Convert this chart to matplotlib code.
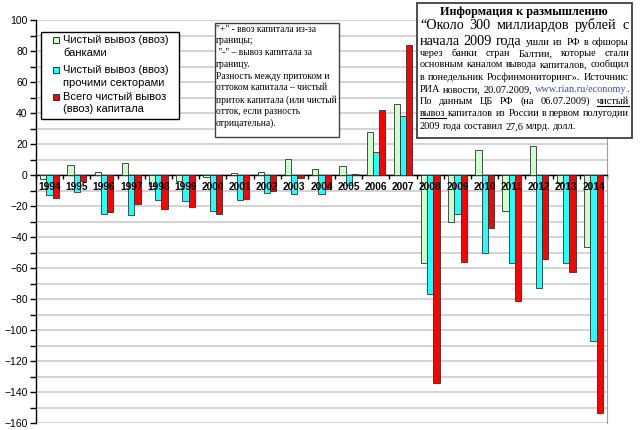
import numpy as np
import matplotlib
matplotlib.use("Agg")
import matplotlib.pyplot as plt
from matplotlib.patches import Rectangle
from matplotlib.lines import Line2D

# capital flows of Russia, bln USD
years = [str(y) for y in range(1994, 2015)]
banks = [-2.4, 6.7, 1.7, 7.8, -7, -4, -1.5, 1.5, 2.2, 10.4, 3.9, 6, 28, 46,
         -56.5, -30, 16, -23, 18.5, -5, -46.5]
others = [-12.6, -11, -25.4, -26, -16, -17, -23, -16, -11.3, -12.4, -12.5, -6.5,
          15, 38, -77, -25, -50, -57, -73, -56.5, -107]
total = [-14.8, -4, -24.1, -18.7, -22, -20.8, -25.4, -15.2, -10.6, -2, -9, 0.5,
         42, 84, -134, -56, -34, -81, -54.5, -62.5, -153.5]

legend_labels = [["Чистый вывоз (ввоз)", "банками"],
                 ["Чистый вывоз (ввоз)", "прочими секторами"],
                 ["Всего чистый вывоз", "(ввоз) капитала"]]
colors = ["#ccffcc", "#22ffff", "#ff0000"]

note_lines = ['"+" - ввоз капитала из-за', 'границы;', ' "-" – вывоз капитала за',
              'границу.', 'Разность между притоком и', 'оттоком капитала – чистый',
              'приток капитала (или чистый', 'отток, если разность', 'отрицательна).']

W, H = 642, 430
fig = plt.figure(figsize=(W / 100, H / 100), dpi=100)
ax = fig.add_axes([36 / W, 7 / H, 571 / W, 403 / H])

x = np.arange(len(years))
bw = 0.23
for i, (vals, c) in enumerate(zip([banks, others, total], colors)):
    ax.bar(x + (i - 1) * bw, vals, bw, color=c, edgecolor="#303030", linewidth=0.6, zorder=3)

ax.set_xlim(-0.5, len(years) - 0.5)
ax.set_ylim(-160, 100)
ax.set_yticks(np.arange(-160, 101, 20))
ax.set_yticks(np.arange(-150, 100, 20), minor=True)
ax.grid(True, which="both", axis="y", color="#c8c8c8", linewidth=1.1, zorder=0)
ax.tick_params(axis="y", which="both", direction="out", length=4, width=1,
               labelsize=7.5, pad=2)
for lab in ax.get_yticklabels():
    lab.set_fontfamily("Liberation Sans")

# category axis sits on zero
ax.spines["bottom"].set_position(("data", 0))
ax.spines["bottom"].set_linewidth(1)
ax.set_xticks(np.arange(-0.5, len(years), 1))
ax.set_xticklabels([])
ax.tick_params(axis="x", direction="out", length=3, width=1)
ax.spines["top"].set_visible(False)
ax.spines["right"].set_color("#a0a0a0")
ax.spines["left"].set_linewidth(1)
for xi, yr in zip(x, years):
    ax.text(xi, -8, yr, ha="center", va="center", fontsize=7.3, fontweight="bold",
            family="Liberation Sans", zorder=5)


def fx(px):
    return px / W


def fy(py):
    return 1 - py / H


# legend box, drawn by hand so the markers sit on the first line
fig.patches.append(Rectangle((fx(41), fy(119)), (179 - 41) / W, (119 - 32) / H,
                             transform=fig.transFigure, facecolor="white",
                             edgecolor="black", linewidth=1, zorder=10))
rows = [(40, 53), (70, 83), (97, 109)]
for (y1, y2), lab, c in zip(rows, legend_labels, colors):
    fig.patches.append(Rectangle((fx(52.5), fy(y1 + 3)), 6 / W, 6 / H,
                                 transform=fig.transFigure, facecolor=c,
                                 edgecolor="#303030", linewidth=0.7, zorder=11))
    fig.text(fx(63), fy(y1), lab[0], va="center", ha="left", fontsize=8,
             family="Liberation Sans", zorder=12)
    fig.text(fx(63), fy(y2), lab[1], va="center", ha="left", fontsize=8,
             family="Liberation Sans", zorder=12)

# note box
fig.patches.append(Rectangle((fx(215), fy(137)), (339 - 215) / W, (137 - 23) / H,
                             transform=fig.transFigure, facecolor="white",
                             edgecolor="#404040", linewidth=1, zorder=10))
for k, s in enumerate(note_lines):
    fig.text(fx(216), fy(29 + k * 11.8), s, va="center", ha="left", fontsize=6.85,
             family="Liberation Serif", zorder=12)

# info box
fig.patches.append(Rectangle((fx(417), fy(138)), (632 - 417) / W, (138 - 3) / H,
                             transform=fig.transFigure, facecolor="white",
                             edgecolor="#404040", linewidth=1.3, zorder=10))
fig.text(fx(524), fy(12), "Информация к размышлению", ha="center", va="center",
         fontsize=8.8, fontweight="bold", family="Liberation Serif", zorder=12)

renderer = fig.canvas.get_renderer()
small = dict(fontsize=7.4)
big = dict(fontsize=10.3)
link = dict(fontsize=7.4, color="#3355aa")
und = dict(fontsize=7.4, underline=True)


def draw_line(base_y, segs, justify=True, x0=420, x1=629):
    # split into words; tokens glued to the previous one form a unit
    units = []
    prev_space = True
    for s, kw in segs:
        parts = s.split(" ")
        for j, w in enumerate(parts):
            if w == "":
                prev_space = True
                continue
            glue = (j == 0 and not prev_space and units)
            kw2 = {k: v for k, v in kw.items() if k != "underline"}
            t = fig.text(0, fy(base_y), w, va="baseline", ha="left",
                         family="Liberation Serif", zorder=12, **kw2)
            wd = t.get_window_extent(renderer).width
            tok = (t, wd, kw.get("underline", False))
            if glue:
                units[-1].append(tok)
            else:
                units.append([tok])
            prev_space = False
        prev_space = s.endswith(" ")
    widths = [sum(tk[1] for tk in u) for u in units]
    if justify and len(units) > 1:
        gap = max(2.0, (x1 - x0 - sum(widths)) / (len(units) - 1))
    else:
        gap = 2.3
    xp = x0
    for u in units:
        for t, wd, ul in u:
            t.set_x(fx(xp))
            if ul:
                fig.lines.append(Line2D([fx(xp), fx(xp + wd)], [fy(base_y + 1.5)] * 2,
                                        transform=fig.transFigure, color="black",
                                        linewidth=0.8, zorder=12))
            xp += wd
        xp += gap


draw_line(29, [("“Около 300 миллиардов рублей с", big)])
draw_line(45, [("начала 2009 года ", big), ("ушли из РФ в офшоры", small)])
draw_line(56, [("через банки стран Балтии, которые стали", small)])
draw_line(67, [("основным каналом вывода капиталов, сообщил", small)])
draw_line(80, [("в понедельник Росфинмониторинг». Источник:", small)])
draw_line(92, [("РИА новости, 20.07.2009, ", small), ("www.rian.ru/economy", link),
               (".", small)])
draw_line(104, [("По данным ЦБ РФ (на 06.07.2009) ", small), ("чистый", und)])
draw_line(116, [("вывоз", und), (" капиталов из России в первом полугодии", small)])
draw_line(129, [("2009 года составил 27,6 млрд. долл.", small)], justify=False)

fig.savefig("out.png", dpi=100)
